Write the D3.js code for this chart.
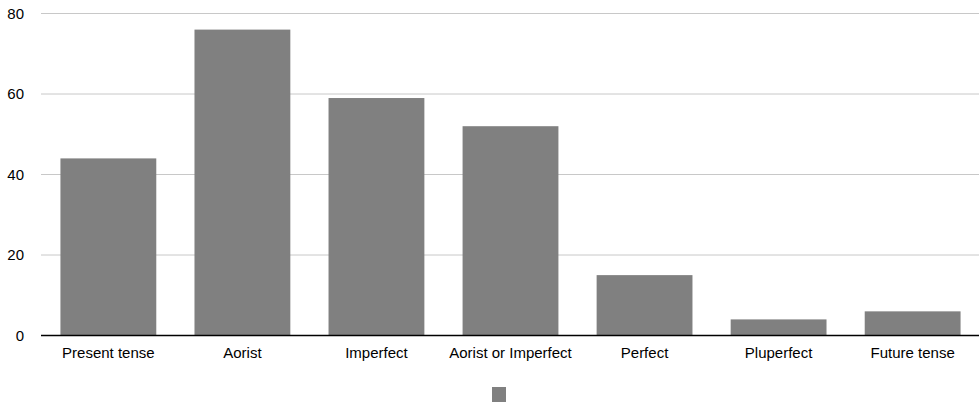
<!DOCTYPE html>
<html><head><meta charset="utf-8">
<script src="https://cdn.jsdelivr.net/npm/d3@7/dist/d3.min.js"></script>
<style>body{margin:0;background:#fff}svg{display:block}text{font-family:"Liberation Sans",Arial,Helvetica,sans-serif}</style>
</head><body>
<svg id="c" width="979" height="403"></svg>
<script>
const categories = ["Present tense","Aorist","Imperfect","Aorist or Imperfect","Perfect","Pluperfect","Future tense"];
const values = [44,76,59,52,15,4,6];
const yTicks = [0,20,40,60,80];

(function(){
const svg = d3.select("#c");
const mLeft = 41, mRight = 980, mTop = 13.5, mBottom = 335.5;
const x = d3.scaleBand().domain(categories).range([mLeft, mRight]).paddingInner(0.285).paddingOuter(0.145);
const y = d3.scaleLinear().domain([0,80]).range([mBottom, mTop]);

svg.append("g").selectAll("line").data(yTicks.filter(d=>d>0)).join("line")
  .attr("x1", mLeft).attr("x2", 979).attr("y1", d=>y(d)).attr("y2", d=>y(d))
  .attr("stroke", "#c8c8c8").attr("stroke-width", 1);

svg.append("g").selectAll("text").data(yTicks).join("text")
  .attr("x", 24).attr("y", d=>y(d)).attr("dy","0.35em").attr("text-anchor","end")
  .attr("font-size", 15).attr("fill", "#000").text(d=>d);

svg.append("g").selectAll("rect").data(values).join("rect")
  .attr("x", (d,i)=>x(categories[i])).attr("width", x.bandwidth())
  .attr("y", d=>y(d)).attr("height", d=>y(0)-y(d)).attr("fill", "#808080");

svg.append("line").attr("x1", mLeft).attr("x2", 979).attr("y1", y(0)).attr("y2", y(0))
  .attr("stroke", "#000").attr("stroke-width", 1.3);

svg.append("g").selectAll("text").data(categories).join("text")
  .attr("x", d=>x(d)+x.bandwidth()/2).attr("y", 358).attr("text-anchor","middle")
  .attr("font-size", 15).attr("fill","#000").text(d=>d);

svg.append("rect").attr("x", 492).attr("y", 387).attr("width", 14).attr("height", 15).attr("fill", "#808080");
})();
</script>
</body></html>
